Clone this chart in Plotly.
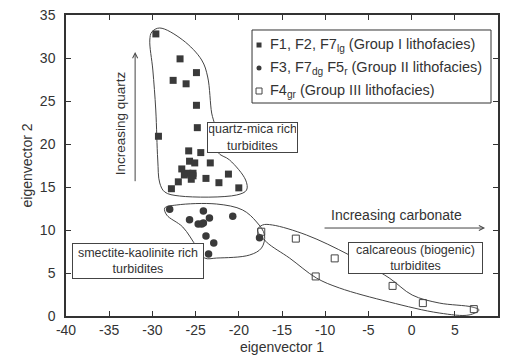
import plotly.graph_objects as go

# Group I (filled squares)
g1_x = [-29.6, -26.8, -24.9, -27.6, -26.1, -24.9, -24.8, -29.3, -25.8, -24.4, -25.7, -25.1,
        -23.3, -26.6, -25.9, -25.3, -26.3, -25.3, -25.5, -27.0, -23.8, -22.3, -21.2, -27.8, -20.0]
g1_y = [32.8, 29.9, 28.3, 27.4, 27.0, 24.5, 21.9, 20.9, 19.2, 19.0, 18.0, 17.8,
        17.8, 17.1, 16.6, 16.6, 16.4, 16.3, 15.9, 15.6, 16.0, 15.5, 16.5, 14.8, 14.9]
# Group II (filled circles)
g2_x = [-28.0, -24.1, -23.4, -25.7, -20.7, -24.7, -24.3, -24.1, -23.8, -22.9, -23.5, -17.6]
g2_y = [12.4, 12.2, 11.4, 11.2, 11.6, 10.7, 10.7, 10.8, 9.3, 8.5, 7.2, 9.1]
# Group III (open squares)
g3_x = [-17.4, -13.4, -8.9, -11.1, -2.2, 1.3, 7.2]
g3_y = [9.8, 9.0, 6.7, 4.6, 3.5, 1.5, 0.8]

# Outlines of the groups
o1_x = [-30.07, -29.15, -26.49, -24.30, -23.60, -23.14, -22.79, -22.45, -21.06, -19.21, -19.10,
        -20.25, -26.84, -28.57, -29.15, -29.38, -29.61, -29.95, -30.30, -30.07]
o1_y = [33.02, 33.49, 32.09, 29.77, 27.79, 23.60, 22.21, 19.07, 18.14, 15.81, 14.65,
        14.07, 13.95, 14.42, 15.47, 18.14, 23.95, 28.60, 32.09, 33.02]
o2_x = [-28.57, -27.18, -22.56, -19.56, -17.94, -17.02, -17.37, -18.75, -22.56, -23.95,
        -24.87, -26.49, -28.34, -28.57]
o2_y = [12.56, 12.91, 13.02, 12.33, 10.93, 9.42, 7.91, 7.09, 6.74, 6.74,
        8.02, 10.35, 11.74, 12.56]
o3_x = [-17.83, -17.25, -16.10, -12.17, -7.21, -2.59, 0.07, 3.19, 7.0, 7.81, 6.65, 3.19,
        -2.59, -8.36, -11.02, -14.13, -16.79, -17.83]
o3_y = [10.0, 10.58, 10.58, 9.42, 7.09, 4.42, 2.44, 1.51, 1.05, 0.70, 0.12, 0.35,
        1.63, 3.26, 4.42, 6.74, 8.60, 10.0]

x_ticks = [-40, -35, -30, -25, -20, -15, -10, -5, 0, 5, 10]
y_ticks = [0, 5, 10, 15, 20, 25, 30, 35]

legend_labels = ["F1, F2, F7<sub>lg</sub> (Group I lithofacies)",
                 "F3, F7<sub>dg</sub> F5<sub>r</sub> (Group II lithofacies)",
                 "F4<sub>gr</sub> (Group III lithofacies)"]

FONT = "Liberation Sans, Arial, sans-serif"
INK = "#333333"
LINE = "#444444"
MARK = "#3a3a3a"

fig = go.Figure()
for ox, oy in [(o1_x, o1_y), (o2_x, o2_y), (o3_x, o3_y)]:
    fig.add_trace(go.Scatter(x=ox, y=oy, mode="lines",
                             line=dict(color=LINE, width=1, shape="spline", smoothing=1.0),
                             showlegend=False, hoverinfo="skip"))

fig.add_trace(go.Scatter(x=g1_x, y=g1_y, mode="markers", name=legend_labels[0], showlegend=False,
                         marker=dict(symbol="square", size=7, color=MARK, line=dict(width=0))))
fig.add_trace(go.Scatter(x=g2_x, y=g2_y, mode="markers", name=legend_labels[1], showlegend=False,
                         marker=dict(symbol="circle", size=7.5, color=MARK, line=dict(width=0))))
fig.add_trace(go.Scatter(x=g3_x, y=g3_y, mode="markers", name=legend_labels[2], showlegend=False,
                         marker=dict(symbol="square-open", size=7, color=LINE, line=dict(width=1))))

# Text boxes
box = dict(showarrow=False, bgcolor="white", bordercolor=LINE, borderwidth=1, xref="x", yref="y",
           font=dict(family=FONT, size=12.5, color=INK))
fig.add_annotation(x=-18.41, y=20.76, text="quartz-mica rich<br>turbidites", width=87, height=27, **box)
fig.add_annotation(x=-31.67, y=6.34, text="smectite-kaolinite rich<br>turbidites", width=128, height=32, **box)
fig.add_annotation(x=0.45, y=6.74, text="calcareous (biogenic)<br>turbidites", width=131, height=28, **box)

# Arrows and their labels
fig.add_annotation(x=-32.0, y=30.7, ax=-32.0, ay=15.5, xref="x", yref="y", axref="x", ayref="y",
                   showarrow=True, arrowhead=5, arrowsize=1, arrowwidth=1, arrowcolor=LINE, text="")
fig.add_annotation(x=8.5, y=10.23, ax=-10.25, ay=10.23, xref="x", yref="y", axref="x", ayref="y",
                   showarrow=True, arrowhead=5, arrowsize=1, arrowwidth=1, arrowcolor=LINE, text="")
fig.add_annotation(x=-33.75, y=22.4, text="Increasing quartz", textangle=-90, showarrow=False,
                   xref="x", yref="y", font=dict(family=FONT, size=13.5, color=INK))
fig.add_annotation(x=-1.8, y=11.74, text="Increasing carbonate", showarrow=False,
                   xref="x", yref="y", font=dict(family=FONT, size=14, color=INK))

# Legend (drawn by hand to match the compact original)
fig.add_shape(type="rect", xref="paper", yref="paper", x0=0.4306, x1=0.9838, y0=0.7076, y1=0.9502,
              line=dict(color=INK, width=1), fillcolor="white", layer="above")
row_y = [0.9003, 0.8239, 0.7475]
mx = 0.4468
fig.add_shape(type="rect", xref="paper", yref="paper", xsizemode="pixel", ysizemode="pixel",
              xanchor=mx, yanchor=row_y[0], x0=-2.5, x1=2.5, y0=-2.5, y1=2.5,
              fillcolor=MARK, line=dict(width=0), layer="above")
fig.add_shape(type="circle", xref="paper", yref="paper", xsizemode="pixel", ysizemode="pixel",
              xanchor=mx, yanchor=row_y[1], x0=-2.5, x1=2.5, y0=-2.5, y1=2.5,
              fillcolor=MARK, line=dict(width=0), layer="above")
fig.add_shape(type="rect", xref="paper", yref="paper", xsizemode="pixel", ysizemode="pixel",
              xanchor=mx, yanchor=row_y[2], x0=-3, x1=3, y0=-3, y1=3,
              fillcolor="white", line=dict(color=LINE, width=1), layer="above")
for lbl, ry in zip(legend_labels, row_y):
    fig.add_annotation(x=0.4676, y=ry, xref="paper", yref="paper", text=lbl, showarrow=False,
                       xanchor="left", yanchor="middle", font=dict(family=FONT, size=14.5, color=INK))

axis_common = dict(showgrid=False, zeroline=False, showline=True, linecolor=INK, linewidth=1.5,
                   mirror="ticks", ticks="inside", ticklen=5, tickwidth=1, tickcolor=INK,
                   automargin=False, tickfont=dict(family=FONT, size=14, color=INK))
fig.update_xaxes(range=[-40, 10], tickvals=x_ticks, ticktext=[str(v) for v in x_ticks],
                 title=dict(text="eigenvector 1", font=dict(family=FONT, size=14, color=INK), standoff=6),
                 **axis_common)
fig.update_yaxes(range=[0, 35], tickvals=y_ticks, ticktext=[str(v) for v in y_ticks],
                 title=dict(text="eigenvector 2", font=dict(family=FONT, size=14, color=INK), standoff=4),
                 ticklabelstandoff=6, **axis_common)

fig.update_layout(width=505, height=364, margin=dict(l=66, r=7, t=15, b=48),
                  paper_bgcolor="white", plot_bgcolor="white", showlegend=False,
                  font=dict(family=FONT, color=INK))

fig.write_html("out.html")
